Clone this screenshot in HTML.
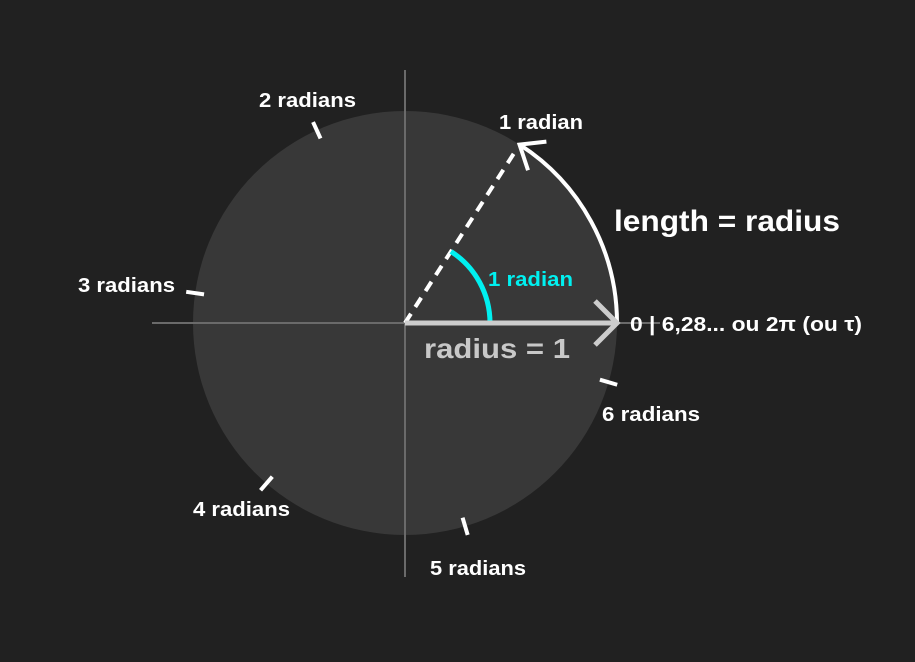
<!DOCTYPE html>
<html><head><meta charset="utf-8">
<style>
html,body{margin:0;padding:0;background:#212121;}
svg{display:block;}
text{font-family:"Liberation Sans",sans-serif;font-weight:bold;}
</style></head>
<body>
<svg id="chart" width="915" height="662" viewBox="0 0 915 662">
<rect width="915" height="662" fill="#212121"/>
<circle cx="405" cy="323" r="212" fill="#383838"/>
<line x1="152" y1="323" x2="660" y2="323" stroke="#6a6a6a" stroke-width="2"/>
<line x1="405" y1="70" x2="405" y2="577" stroke="#6a6a6a" stroke-width="2"/>
<g id="marks"></g>
<text x="424" y="358" font-size="28" fill="#c8c8c8" textLength="146" lengthAdjust="spacingAndGlyphs">radius = 1</text>
<text x="614" y="231" font-size="30" fill="#ffffff" textLength="226" lengthAdjust="spacingAndGlyphs">length = radius</text>
<text x="488" y="286" font-size="20" fill="#00f0f0" textLength="85" lengthAdjust="spacingAndGlyphs">1 radian</text>
<text x="630" y="331" font-size="20" fill="#ffffff" textLength="232" lengthAdjust="spacingAndGlyphs">0 | 6,28... ou 2π (ou τ)</text>
</svg>
<script>
const angles = [1, 2, 3, 4, 5, 6];
const labels = ["1 radian", "2 radians", "3 radians", "4 radians", "5 radians", "6 radians"];
const labelX = [499, 259, 78, 193, 430, 602];
const labelY = [129, 107, 292, 516, 575, 421];
const labelW = [84, 97, 97, 97, 96, 98];
const cx = 405, cy = 323, R = 212, rCyan = 85;
const ns = "http://www.w3.org/2000/svg";
const g = document.getElementById("marks");
function px(a, r){ return cx + r*Math.cos(a); }
function py(a, r){ return cy - r*Math.sin(a); }
function mk(tag, attrs){ const e=document.createElementNS(ns,tag); for(const k in attrs) e.setAttribute(k,attrs[k]); g.appendChild(e); return e; }

const a1 = angles[0];
let d = mk("line",{x1:cx,y1:cy,x2:px(a1,R-4),y2:py(a1,R-4),stroke:"#fff","stroke-width":4,"stroke-dasharray":"11 8"});


let arc = mk("path",{d:`M${px(0,R)},${py(0,R)} A${R},${R} 0 0 0 ${px(a1,R)},${py(a1,R)}`,fill:"none",stroke:"#fff","stroke-width":4});


{
  const ex=px(a1,R), ey=py(a1,R);
  const tx=-Math.sin(a1), ty=-Math.cos(a1);
  const nx=-ty, ny=tx;
  const L=21, W=17;
  const ah = mk("path",{d:`M${ex-L*tx+W*nx},${ey-L*ty+W*ny} L${ex},${ey} L${ex-L*tx-W*nx},${ey-L*ty-W*ny}`,fill:"none",stroke:"#fff","stroke-width":4});
  
  
}
let ca = mk("path",{d:`M${px(0,rCyan)},${py(0,rCyan)} A${rCyan},${rCyan} 0 0 0 ${px(a1,rCyan)},${py(a1,rCyan)}`,fill:"none",stroke:"#00f0f0","stroke-width":5});


let ra = mk("line",{x1:cx,y1:cy,x2:px(0,R)-2,y2:cy,stroke:"#cccccc","stroke-width":5});


let rh = mk("path",{d:`M${px(0,R)-22},${cy-22} L${px(0,R)},${cy} L${px(0,R)-22},${cy+22}`,fill:"none",stroke:"#cccccc","stroke-width":5});


angles.forEach((a,i)=>{
  if(i>0){
    const t = mk("line",{x1:px(a,R-9),y1:py(a,R-9),x2:px(a,R+9),y2:py(a,R+9),stroke:"#fff","stroke-width":4});
    
    
  }
  const tx = mk("text",{x:labelX[i],y:labelY[i],"font-size":20,fill:"#fff",textLength:labelW[i],lengthAdjust:"spacingAndGlyphs"});
  tx.textContent = labels[i];
  
  
});
</script>
</body></html>
